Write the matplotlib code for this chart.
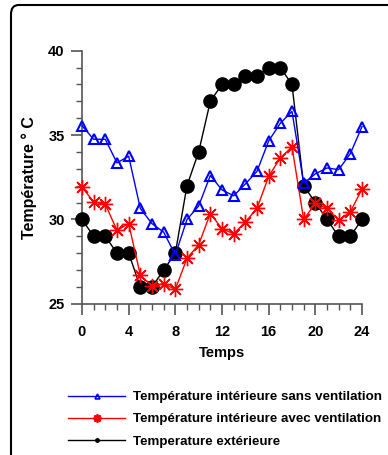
import matplotlib.pyplot as plt
from matplotlib.patches import FancyBboxPatch
from matplotlib.lines import Line2D
from matplotlib.ticker import MultipleLocator

plt.rcParams['font.family'] = ['Liberation Sans', 'DejaVu Sans']
plt.rcParams['font.weight'] = 'bold'

heures = list(range(25))
# temperature interieure sans ventilation
t_sans = [35.55, 34.75, 34.75, 33.35, 33.75, 30.65, 29.75, 29.25, 27.9, 30.0,
          30.8, 32.6, 31.75, 31.4, 32.1, 32.85, 34.65, 35.7, 36.4, 32.15,
          32.7, 33.05, 32.95, 33.9, 35.5]
# temperature interieure avec ventilation
t_avec = [31.9, 31.05, 30.9, 29.35, 29.75, 26.7, 26.05, 26.2, 25.85, 27.7,
          28.5, 30.35, 29.45, 29.15, 29.85, 30.65, 32.55, 33.65, 34.3, 30.0,
          30.95, 30.65, 29.95, 30.45, 31.8]
# temperature exterieure
t_ext = [30, 29, 29, 28, 28, 26, 26, 27, 28, 32, 34, 37, 38, 38, 38.5, 38.5,
         39, 39, 38, 32, 31, 30, 29, 29, 30]

noms = ['Température intérieure sans ventilation',
        'Température intérieure avec ventilation',
        'Temperature extérieure']

fig = plt.figure(figsize=(3.88, 4.55), dpi=100)
ax = fig.add_axes([0.2113, 0.3323, 0.7217, 0.5563])

# cadre arrondi autour de la figure
cadre = FancyBboxPatch((11 / 388, -0.05), 1.2, 1 - 5 / 455 + 0.05,
                       boxstyle='round,pad=0,rounding_size=0.02',
                       transform=fig.transFigure, fill=False,
                       edgecolor='black', linewidth=1.5, clip_on=False)
fig.patches.append(cadre)

ax.plot(heures, t_ext, color='black', lw=1, marker='o', ms=9.5,
        mfc='black', mec='black', clip_on=False, zorder=3)
ax.plot(heures, t_avec, color='red', lw=1, marker=(8, 2, 0), ms=11,
        mec='red', mew=1.0, clip_on=False, zorder=4)
ax.plot(heures, t_sans, color='blue', lw=1, marker='^', ms=7,
        mfc='none', mec='blue', mew=1.5, clip_on=False, zorder=5)

ax.set_xlim(0, 24)
ax.set_ylim(25, 40)
ax.xaxis.set_major_locator(MultipleLocator(4))
ax.xaxis.set_minor_locator(MultipleLocator(1))
ax.yaxis.set_major_locator(MultipleLocator(5))
ax.yaxis.set_minor_locator(MultipleLocator(1))
for s in ['top', 'right']:
    ax.spines[s].set_visible(False)
for s in ['left', 'bottom']:
    ax.spines[s].set_color('#555555')
    ax.spines[s].set_linewidth(1.2)
ax.tick_params(which='major', length=8, width=1.2, color='#555555',
               labelsize=10.5)
ax.tick_params(axis='x', which='major', pad=7.5)
ax.tick_params(axis='y', which='major', pad=4.5)
ax.tick_params(which='minor', length=4.5, width=1, color='#555555')
for lab in ax.get_xticklabels() + ax.get_yticklabels():
    lab.set_fontweight('bold')

ax.set_xlabel('Temps', fontsize=10.5, fontweight='bold', labelpad=5)
ax.set_ylabel('Température ° C', fontsize=11.5, fontweight='bold', labelpad=8)

poignees = [
    Line2D([], [], color='blue', lw=1, marker='^', ms=3.5, mfc='none',
           mec='blue', mew=1.2),
    Line2D([], [], color='red', lw=1, marker=(8, 2, 0), ms=6, mec='red',
           mew=1.3),
    Line2D([], [], color='black', lw=1, marker='o', ms=2.5),
]
fig.legend(poignees, noms, loc='upper left', bbox_to_anchor=(0.175, 0.141),
           frameon=False, borderpad=0, borderaxespad=0, handlelength=4.3,
           handletextpad=0.6, labelspacing=0.74,
           prop={'family': ['Liberation Sans'], 'weight': 'bold', 'size': 9.6})

fig.savefig('out.png', dpi=100)
